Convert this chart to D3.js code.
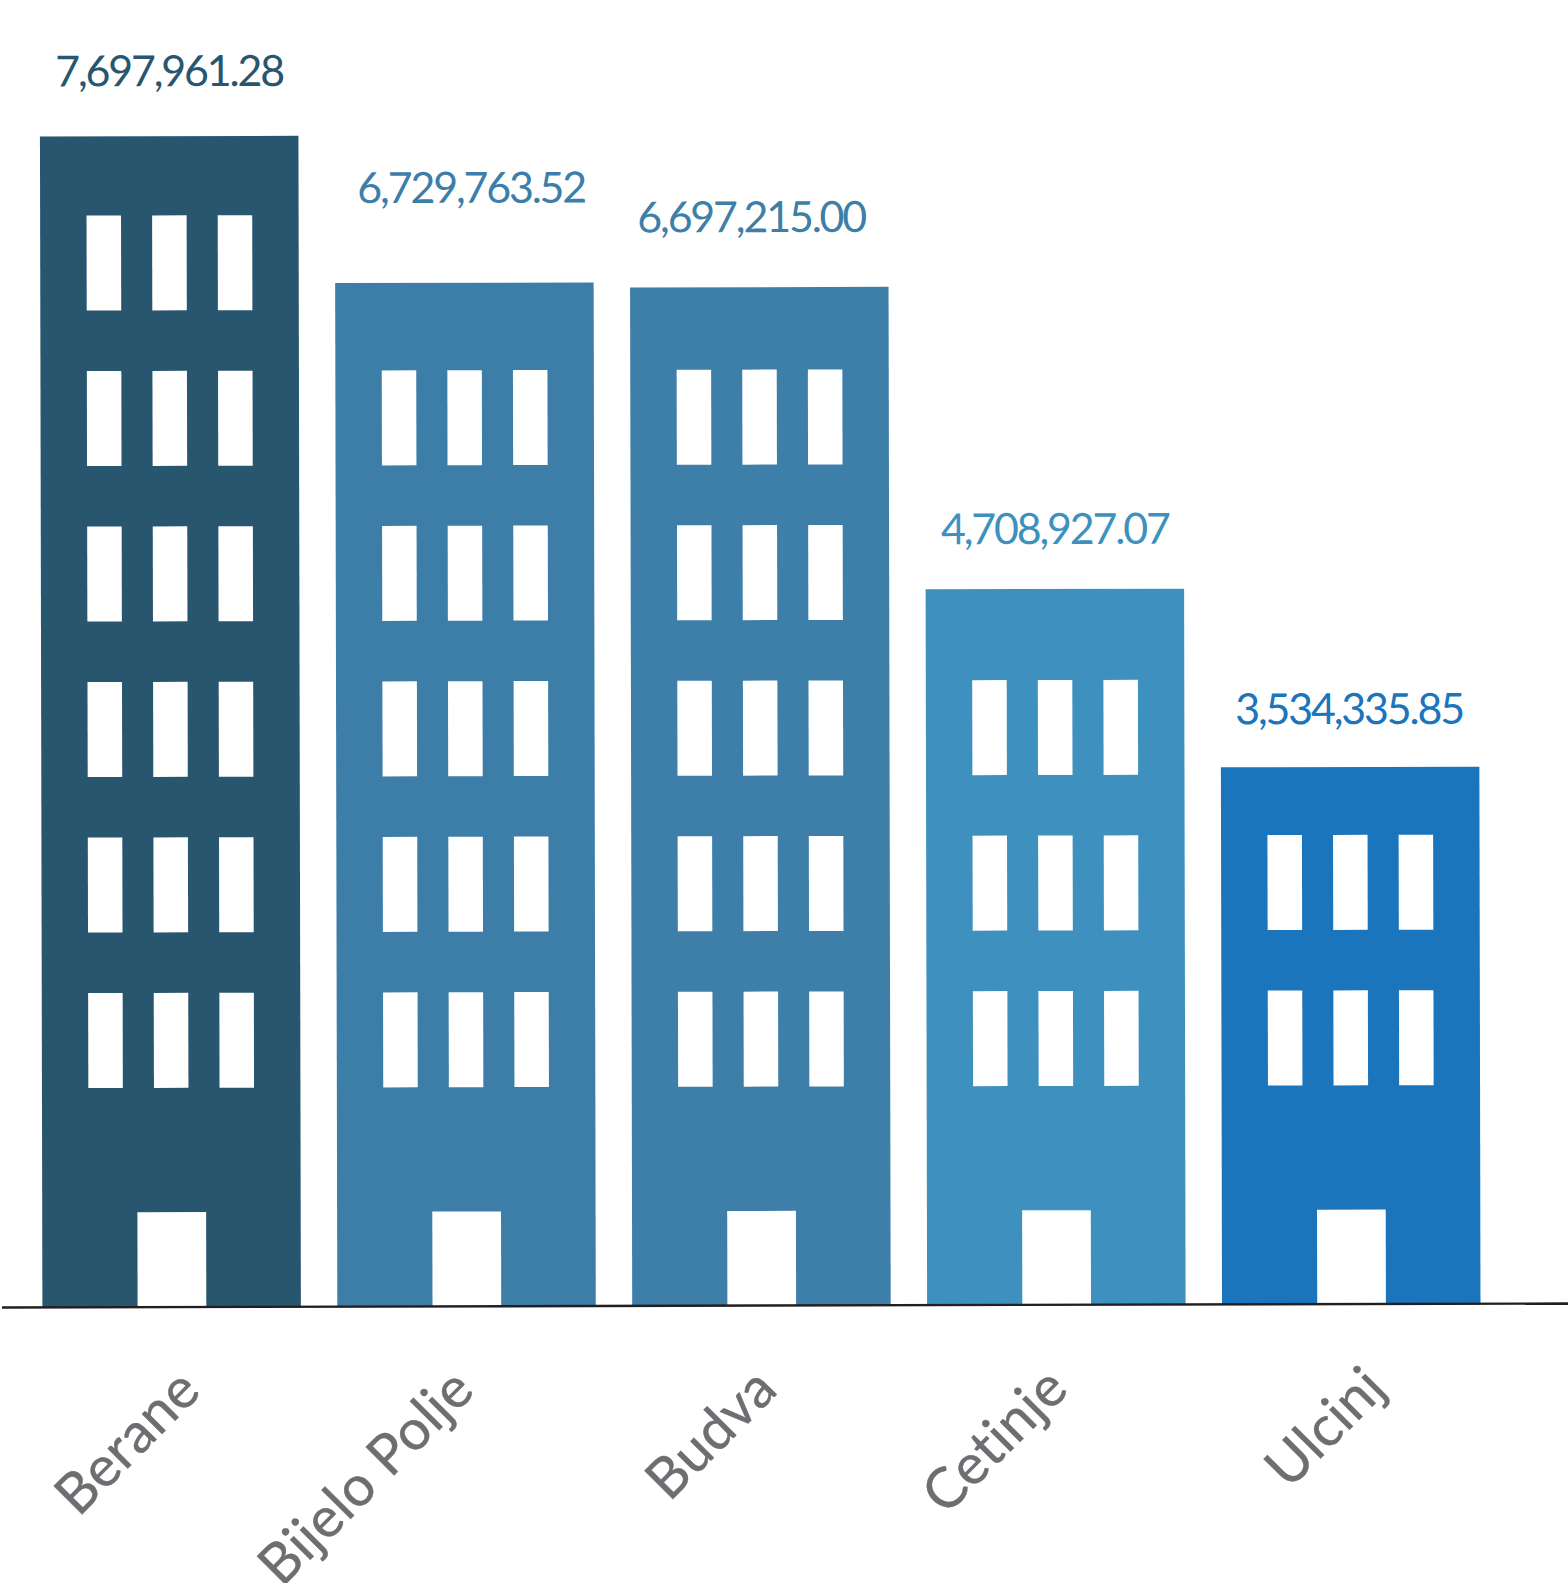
<!DOCTYPE html>
<html>
<head>
<meta charset="utf-8">
<script src="https://cdn.jsdelivr.net/npm/d3@7"></script>
<style>
	body { margin: 0; background: #fff; }
	svg { display: block; }
	.value-label { font-family: Lato, sans-serif; font-size: 43px; letter-spacing: -2.2px; text-anchor: middle; }
	.axis text { font-family: Lato, sans-serif; font-size: 56px; letter-spacing: 0.4px; fill: #6d6e71; stroke: #6d6e71; stroke-width: 0.4px; }
</style>
</head>
<body>
<div id="vis_container"></div>
<script>
// Municipalities, their values and the number of window rows on each building.
var categories = ["Berane", "Bijelo Polje", "Budva", "Cetinje", "Ulcinj"];
var values = [7697961.28, 6729763.52, 6697215.00, 4708927.07, 3534335.85];
var floors = [6, 5, 5, 3, 2];
var bar_colors = ["#28566f", "#3d7ea8", "#3e7fa9", "#3e91bf", "#1b75bc"];

// The labels were placed by hand in the original, so they need their own nudges.
var value_dx = [0, 7, -8, 0, -1];
var value_gap = [50, 80, 55, 45, 43];
var tick_dx = [31, 10, 18, 14, 37];

var width = 1568;
var height = 1583;
var baseline = 1307.5;

var x = d3.scaleBand()
	.domain(categories)
	.range([42.4, 1480.5])
	.paddingInner(0.1235);

// Bar height only, the bars stand on the baseline.
var h = d3.scaleLinear()
	.domain([0, 7697961.28])
	.range([0, 1171]);

var svg = d3.select("#vis_container")
	.append("svg")
	.attr("width", width)
	.attr("height", height);

// The whole picture is very slightly tilted.
var chart = svg.append("g")
	.attr("transform", "rotate(-0.12 0 " + baseline + ")");

var bars = chart.selectAll(".building")
	.data(categories)
	.enter().append("g")
	.attr("class", "building")
	.attr("transform", function(d) { return "translate(" + x(d) + "," + baseline + ")"; });

bars.append("rect")
	.attr("width", x.bandwidth())
	.attr("y", function(d, i) { return -h(values[i]); })
	.attr("height", function(d, i) { return h(values[i]); })
	.style("fill", function(d, i) { return bar_colors[i]; });

// Windows: three per floor, counted up from the door.
var window_x = [46.4, 112, 177.6];
bars.each(function(d, i) {
	var g = d3.select(this);
	d3.range(floors[i]).forEach(function(floor) {
		window_x.forEach(function(wx) {
			g.append("rect")
				.attr("class", "window")
				.attr("x", wx)
				.attr("y", -(219.3 + 155.5 * floor) - 95)
				.attr("width", 34.5)
				.attr("height", 95)
				.style("fill", "#fff");
		});
	});
});

bars.append("rect")
	.attr("class", "door")
	.attr("x", 95.2)
	.attr("y", -95)
	.attr("width", 68.7)
	.attr("height", 95)
	.style("fill", "#fff");

// Value labels.
chart.selectAll(".value-label")
	.data(categories)
	.enter().append("text")
	.attr("class", "value-label")
	.attr("x", function(d, i) { return x(d) + x.bandwidth() / 2 + value_dx[i]; })
	.attr("y", function(d, i) { return baseline - h(values[i]) - value_gap[i]; })
	.style("fill", function(d, i) { return bar_colors[i]; })
	.text(function(d, i) { return d3.format(",.2f")(values[i]); });

// Axis line runs past the bars on both sides.
chart.append("line")
	.attr("x1", 2)
	.attr("x2", width + 4)
	.attr("y1", baseline)
	.attr("y2", baseline)
	.attr("transform", "rotate(-0.026 0 " + baseline + ")")
	.style("stroke", "#231f20")
	.style("stroke-width", 2.4);

var axis = chart.append("g")
	.attr("class", "axis")
	.attr("transform", "translate(0," + baseline + ")")
	.call(d3.axisBottom(x).tickSize(0));

axis.select(".domain").remove();

axis.selectAll(".tick text")
	.attr("text-anchor", "end")
	.attr("dy", null)
	.attr("y", 0)
	.attr("transform", function(d, i) { return "translate(" + tick_dx[i] + ",86) rotate(-45)"; });
</script>
</body>
</html>
